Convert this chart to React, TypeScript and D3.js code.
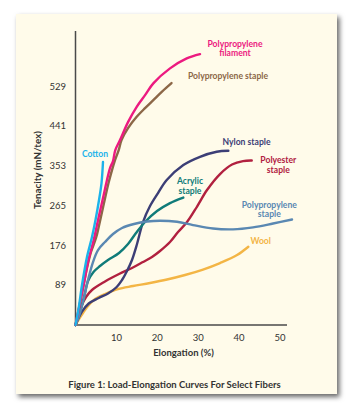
import React from "react";
import * as d3 from "d3";

// ---- data (elongation %, tenacity mN/tex) ----
const xTicks = [10, 20, 30, 40, 50];
const yTicks = [89, 176, 265, 353, 441, 529];

const cottonX = [0, 0.78, 1.59, 2.81, 4.03, 4.89, 5.75, 6.36, 6.72];
const cottonY = [0, 37.6, 88.5, 150.5, 194.8, 232.4, 276.7, 314.3, 360.8];

const ppFilamentX = [0, 1.1, 2.08, 3.06, 4.45, 5.67, 6.72, 7.7, 8.44, 9.17, 9.73, 10.88, 12.84, 14.96, 17.0, 19.02, 23.1, 27.19, 30.44];
const ppFilamentY = [0, 48.7, 93, 139.4, 188.1, 239, 281.1, 321, 347.5, 363, 387.3, 409.5, 449.3, 483.2, 509, 535, 568.2, 590.3, 599.8];

const ppStapleBrownX = [0, 0.86, 1.83, 2.81, 3.79, 5.01, 5.67, 6.48, 7.29, 8.07, 8.92, 9.66, 10.56, 11.25, 12.84, 14.96, 17.0, 19.02, 21.15, 23.47];
const ppStapleBrownY = [0, 37.6, 81.9, 126.2, 161.6, 192.6, 216.9, 250.1, 283.3, 314.3, 343.1, 365.2, 387.3, 409.5, 436, 461, 480.3, 498, 516.8, 535.6];

const nylonX = [0, 1.59, 3.23, 5.67, 7.95, 10.07, 11.37, 12.59, 13.81, 15.04, 16.5, 18.22, 20.17, 22.3, 26.36, 30.44, 34.52, 37.36];
const nylonY = [0, 29.4, 47.6, 59.8, 69.7, 84.1, 99.6, 119.5, 143.9, 179.3, 228, 263.4, 292.2, 321, 354.2, 372.5, 383.6, 385.8];

const polyesterX = [0, 0.61, 1.34, 2.57, 4.03, 7.21, 10.64, 13.81, 16.5, 18.7, 20.66, 23.1, 25.06, 27.26, 29.71, 32.15, 35.33, 38.26, 40.95, 43.08];
const polyesterY = [0, 19.9, 39.8, 62, 77.5, 96.3, 112.9, 126.2, 139.4, 150.5, 163.8, 183.7, 205.8, 228, 262.3, 298.8, 334.2, 355.3, 363, 364.1];

const acrylicX = [0, 1.1, 2.08, 3.06, 4.4, 5.99, 7.95, 10.64, 12.84, 14.79, 16.99, 19.93, 23.1, 26.36];
const acrylicY = [0, 28.8, 62, 97.4, 117.3, 130.6, 143.9, 159.4, 179.3, 203.6, 228, 252.3, 270, 282.2];

const ppStapleBlueX = [0, 0.86, 1.83, 3.06, 4.28, 5.5, 7.21, 9.17, 11.37, 14.3, 17.48, 20.66, 24.82, 28.73, 33.62, 38.51, 43.4, 48.29, 52.93];
const ppStapleBlueY = [0, 19.9, 50.9, 99.6, 139.4, 166, 183.7, 201.4, 214.7, 223.6, 229.1, 230.9, 228.6, 221.3, 213.6, 211.8, 216.2, 224.7, 233.5];

const woolX = [0, 0.86, 1.83, 3.06, 4.77, 7.21, 10.39, 14.06, 18.22, 22.37, 26.77, 31.17, 35.33, 39.49, 42.25];
const woolY = [0, 13.3, 26.6, 42.1, 57.5, 68.6, 79.7, 86.3, 93, 100.7, 110.7, 122.8, 137.2, 154.9, 173.3];

const series = [
  { name: "Wool", xs: woolX, ys: woolY, color: "#F3B545" },
  { name: "Polyester staple", xs: polyesterX, ys: polyesterY, color: "#B1203F" },
  { name: "Nylon staple", xs: nylonX, ys: nylonY, color: "#3C3E76" },
  { name: "Acrylic staple", xs: acrylicX, ys: acrylicY, color: "#107B79" },
  { name: "Polypropylene staple (blue)", xs: ppStapleBlueX, ys: ppStapleBlueY, color: "#5A88B2" },
  { name: "Polypropylene staple", xs: ppStapleBrownX, ys: ppStapleBrownY, color: "#8C6747" },
  { name: "Polypropylene filament", xs: ppFilamentX, ys: ppFilamentY, color: "#EC1A80" },
  { name: "Cotton", xs: cottonX, ys: cottonY, color: "#1CB3EA" },
];

// label text (positions are layout, kept separately)
const labels = [
  { lines: ["Polypropylene", "filament"], x: 235, y: 43.5, color: "#EC1A80" },
  { lines: ["Polypropylene staple"], x: 228, y: 75.5, color: "#8C6747" },
  { lines: ["Cotton"], x: 95, y: 154, color: "#1CB3EA" },
  { lines: ["Nylon staple"], x: 246.5, y: 142.3, color: "#3C3E76" },
  { lines: ["Polyester", "staple"], x: 278.3, y: 160.2, color: "#B1203F" },
  { lines: ["Acrylic", "staple"], x: 190, y: 181.2, color: "#107B79" },
  { lines: ["Polypropylene", "staple"], x: 269.3, y: 204.8, color: "#5A88B2" },
  { lines: ["Wool"], x: 260.7, y: 241, color: "#F3B545" },
];

const FONT = "Lato, 'Open Sans', sans-serif";

export default function App() {
  const W = 352;
  const H = 409;
  const x = d3.scaleLinear().domain([0, 51.7]).range([75.5, 287]);
  const y = d3.scaleLinear().domain([0, 651]).range([325, 31]);

  const line = d3
    .line<[number, number]>()
    .x((d) => x(d[0]))
    .y((d) => y(d[1]))
    .curve(d3.curveCatmullRom.alpha(0.5));

  return (
    <svg
      width={W}
      height={H}
      style={{ position: "absolute", left: 0, top: 0, background: "#fff" }}
    >
      <defs>
        <filter id="shadow" x="-10%" y="-10%" width="120%" height="120%">
          <feDropShadow dx="2.5" dy="3" stdDeviation="2.5" floodColor="#000" floodOpacity="0.6" />
        </filter>
      </defs>
      <rect x={16} y={14} width={321} height={380} fill="#FFFBEA" filter="url(#shadow)" />

      {/* axes */}
      <line x1={x(0)} x2={x(0)} y1={y(651)} y2={y(0)} stroke="#4a4a4a" strokeWidth={1.5} />
      <line x1={x(0)} x2={x(51.7)} y1={y(0)} y2={y(0)} stroke="#4a4a4a" strokeWidth={1.5} />

      {yTicks.map((t) => (
        <text key={t} x={66} y={y(t) + 3.5} textAnchor="end" fontFamily={FONT} fontSize={9.5} fill="#333">
          {t}
        </text>
      ))}
      {xTicks.map((t) => (
        <text key={t} x={x(t)} y={341} textAnchor="middle" fontFamily={FONT} fontSize={9.5} fill="#333">
          {t}
        </text>
      ))}

      <text x={183.5} y={355.5} textAnchor="middle" fontFamily={FONT} fontWeight={700} fontSize={9.5} fill="#333">
        Elongation (%)
      </text>
      <text
        transform="translate(41,170) rotate(-90)"
        textAnchor="middle"
        fontFamily={FONT}
        fontWeight={700}
        fontSize={9.8}
        fill="#333"
      >
        Tenacity (mN/tex)
      </text>

      {series.map((s) => (
        <path
          key={s.name}
          d={line(s.xs.map((v, i) => [v, s.ys[i]] as [number, number])) || ""}
          fill="none"
          stroke={s.color}
          strokeWidth={2.4}
          strokeLinecap="round"
        />
      ))}

      {labels.map((l, i) => (
        <text key={i} textAnchor="middle" fontFamily={FONT} fontWeight={700} fontSize={8.6} fill={l.color}>
          {l.lines.map((ln, j) => (
            <tspan key={j} x={l.x} y={l.y + 3 + j * 9.4}>
              {ln}
            </tspan>
          ))}
        </text>
      ))}

      <text x={174.5} y={387.5} textAnchor="middle" fontFamily={FONT} fontWeight={700} fontSize={9.5} fill="#333">
        Figure 1: Load-Elongation Curves For Select Fibers
      </text>
    </svg>
  );
}
